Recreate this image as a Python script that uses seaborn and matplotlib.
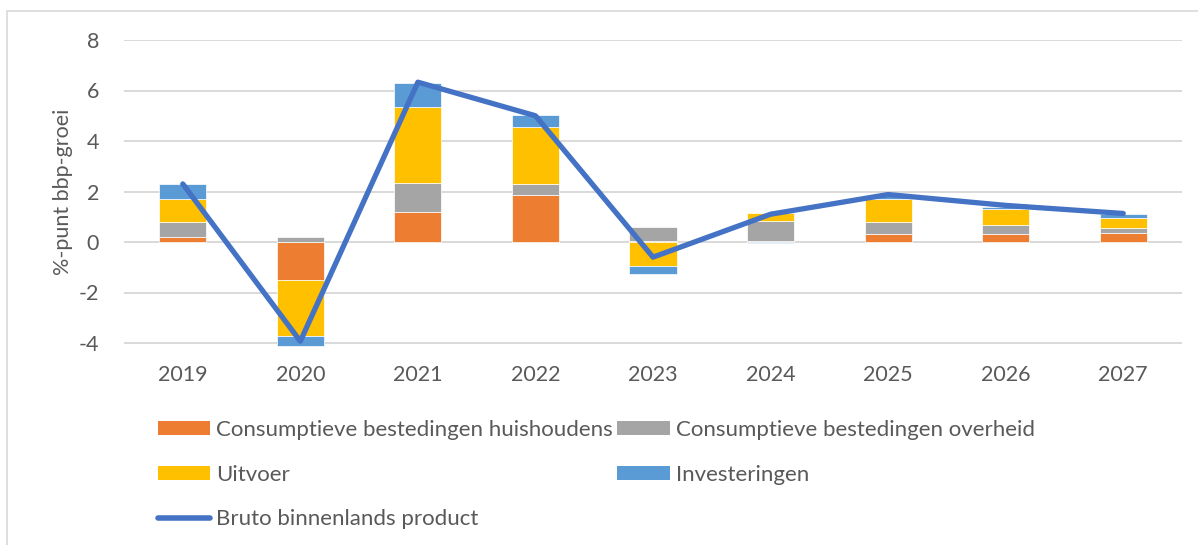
import numpy as np
import pandas as pd
import matplotlib
matplotlib.use("Agg")
import matplotlib.pyplot as plt
import matplotlib.patches as mpatches
from matplotlib.lines import Line2D
import seaborn as sns

years = ["2019", "2020", "2021", "2022", "2023", "2024", "2025", "2026", "2027"]
huishoudens = [0.20, -1.52, 1.20, 1.85, 0.04, 0.03, 0.33, 0.33, 0.37]
overheid = [0.60, 0.20, 1.13, 0.45, 0.57, 0.80, 0.47, 0.35, 0.19]
uitvoer = [0.92, -2.22, 3.00, 2.26, -0.95, 0.30, 0.89, 0.61, 0.39]
investeringen = [0.56, -0.36, 0.97, 0.46, -0.30, -0.05, 0.15, 0.10, 0.16]
bbp = [2.30, -3.93, 6.33, 5.00, -0.60, 1.10, 1.88, 1.45, 1.13]

series_names = ["Consumptieve bestedingen huishoudens", "Consumptieve bestedingen overheid",
                "Uitvoer", "Investeringen"]
line_name = "Bruto binnenlands product"
colors = ["#ED7D31", "#A5A5A5", "#FFC000", "#5B9BD5"]
line_color = "#4472C4"
text_color = "#595959"
grid_color = "#D9D9D9"

sns.set_theme(style="white")
plt.rcParams["font.family"] = ["Lato", "DejaVu Sans"]
plt.rcParams["axes.unicode_minus"] = False

W, H = 1198, 545
fig = plt.figure(figsize=(W / 100, H / 100), dpi=100)
# y = 8 at px 40, y = -4 at px 343; extend a little below -4 so the 2020 bar is not clipped
ppu = (343 - 40) / 12.0
ymin = -4.4
bottom_px = 343 + (-4 - ymin) * ppu
ax = fig.add_axes([124 / W, 1 - bottom_px / H, (1182 - 124) / W, (bottom_px - 40) / H])

# stacked bars: positives up from zero, negatives down from zero
pos_base = np.zeros(len(years))
neg_base = np.zeros(len(years))
for name, vals, col in zip(series_names, [huishoudens, overheid, uitvoer, investeringen], colors):
    vals = np.array(vals, dtype=float)
    bottoms = np.where(vals >= 0, pos_base, neg_base)
    df = pd.DataFrame({"jaar": years, "waarde": vals})
    sns.barplot(data=df, x="jaar", y="waarde", order=years, color=col, width=0.4,
                errorbar=None, bottom=bottoms, edgecolor="white", linewidth=0.5,
                saturation=1, ax=ax, zorder=2)
    pos_base = pos_base + np.where(vals >= 0, vals, 0)
    neg_base = neg_base + np.where(vals < 0, vals, 0)

dfl = pd.DataFrame({"pos": np.arange(len(years)), "bbp": bbp})
sns.lineplot(data=dfl, x="pos", y="bbp", color=line_color, linewidth=3.8, ax=ax,
             zorder=4, solid_capstyle="round", solid_joinstyle="round")

ax.set_xlim(-0.5, len(years) - 0.5)
ax.set_ylim(ymin, 8)
ax.set_yticks([-4, -2, 0, 2, 4, 6, 8])
ax.set_xticks(np.arange(len(years)))
ax.set_xticklabels(years)
ax.yaxis.grid(True, color=grid_color, linewidth=1.4, zorder=0)
ax.xaxis.grid(False)
ax.set_axisbelow(True)
for s in ax.spines.values():
    s.set_visible(False)
ax.tick_params(axis="y", length=0, pad=18, labelsize=15.5, labelcolor=text_color)
ax.tick_params(axis="x", length=0, pad=16 - (bottom_px - 343) * 0.72, labelsize=15.5,
               labelcolor=text_color)
ax.set_xlabel("")
ax.set_ylabel("%-punt bbp-groei", fontsize=15.5, color=text_color)
ax.yaxis.set_label_coords(73 / W, 1 - 191.5 / H, transform=fig.transFigure)

handles = [mpatches.Patch(facecolor=c, edgecolor="none") for c in colors]
lh = Line2D([0], [0], color=line_color, linewidth=4, solid_capstyle="round")
order_h = [handles[0], handles[2], lh, handles[1], handles[3]]
order_l = [series_names[0], series_names[2], line_name, series_names[1], series_names[3]]
fig.legend(order_h, order_l, loc="upper left", bbox_to_anchor=(158 / W, 1 - 420 / H),
           ncol=2, frameon=False, fontsize=16, labelcolor=text_color,
           handlelength=2.35, handleheight=0.6, handletextpad=0.27, columnspacing=0.2,
           labelspacing=1.11, borderpad=0, borderaxespad=0)

fig.patches.append(mpatches.Rectangle((7 / W, -0.05), 1.2, 1 - 11 / H + 0.05,
                                      transform=fig.transFigure, fill=False,
                                      edgecolor=grid_color, linewidth=1.2))

fig.savefig("out.png", dpi=100)
